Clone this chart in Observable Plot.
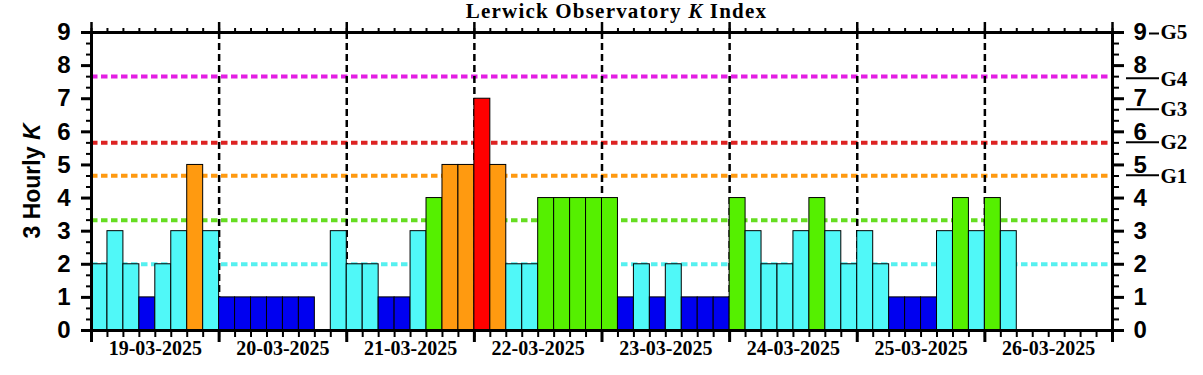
<!DOCTYPE html>
<html>
<head>
<meta charset="utf-8">
<script src="https://cdn.jsdelivr.net/npm/d3@7"></script>
<script src="https://cdn.jsdelivr.net/npm/@observablehq/plot@0.6"></script>
<style>
  html, body { margin: 0; padding: 0; background: #fff; }
  #title {
    height: 20px; line-height: 22px; box-sizing: border-box; padding-left: 30px;
    font-family: "Liberation Serif", serif; font-weight: bold; font-size: 21px;
    letter-spacing: 1.2px; text-align: center; color: #000; white-space: nowrap;
  }
  #chart svg { display: block; overflow: visible; }
</style>
</head>
<body>
<div id="title">Lerwick Observatory <i>K</i> Index</div>
<div id="chart"></div>
<script>
// ---- data ----
const days = ["19-03-2025", "20-03-2025", "21-03-2025", "22-03-2025", "23-03-2025", "24-03-2025", "25-03-2025", "26-03-2025"];
const kDay19 = [2, 3, 2, 1, 2, 3, 5, 3];
const kDay20 = [1, 1, 1, 1, 1, 1, 0, 3];
const kDay21 = [2, 2, 1, 1, 3, 4, 5, 5];
const kDay22 = [7, 5, 2, 2, 4, 4, 4, 4];
const kDay23 = [4, 1, 2, 1, 2, 1, 1, 1];
const kDay24 = [4, 3, 2, 2, 3, 4, 3, 2];
const kDay25 = [3, 2, 1, 1, 1, 3, 4, 3];
const kDay26 = [4, 3, null, null, null, null, null, null];
const yTicks = [0, 1, 2, 3, 4, 5, 6, 7, 8, 9];
const thresholdK = [2, 3.33, 4.67, 5.67, 7.67];
const thresholdColors = ["#55f0f0", "#66dd22", "#ff9a11", "#dd2222", "#e31fe3"];
const kColors = ["#0000f0", "#0000f0", "#50f8f8", "#50f8f8", "#55f000", "#ff9a10", "#ff6600", "#ff0000", "#ff00ff", "#ff00ff"];
const gLabels = ["G1", "G2", "G3", "G4", "G5"];
const gK = [4.67, 5.67, 6.67, 7.6, 9];
const yTitle = ["3 Hourly ", "K"];

// ---- derived ----
const H = 3600 * 1000;
const start = Date.UTC(2025, 2, 19);
const kAll = [kDay19, kDay20, kDay21, kDay22, kDay23, kDay24, kDay25, kDay26];
const bars = [];
kAll.forEach((arr, i) => arr.forEach((k, j) => {
  if (k == null || k === 0) return;
  const s = start + (i * 8 + j) * 3 * H;
  bars.push({x1: new Date(s), x2: new Date(s + 3 * H), k, color: kColors[k]});
}));
const dayStarts = d3.range(days.length + 1).map(i => new Date(start + i * 24 * H));
const dayInner = dayStarts.slice(1, -1);
const minor = d3.range(days.length * 8 + 1).map(i => new Date(start + i * 3 * H));
const noons = days.map((d, i) => new Date(start + (i * 24 + 12) * H));
const yMinor = d3.range(0, 28).map(i => i / 3).filter(v => Math.abs(v - Math.round(v)) > 1e-6);
const thresholds = thresholdK.map((k, i) => ({k, color: thresholdColors[i]}));

const numFont = {fontFamily: "Liberation Sans, Arial, sans-serif", fontSize: 24, fontWeight: "bold"};

const chart = Plot.plot({
  width: 1203,
  height: 355,
  marginTop: 12,
  marginBottom: 45,
  marginLeft: 91,
  marginRight: 91,
  x: {type: "utc", domain: [dayStarts[0], dayStarts[dayStarts.length - 1]], axis: null},
  y: {domain: [0, 9], axis: null},
  color: {type: "identity"},
  style: {background: "#fff", color: "#000"},
  marks: [
    Plot.ruleY(thresholds, {y: "k", stroke: "color", strokeWidth: 4, strokeDasharray: "6.5,3.5"}),
    Plot.ruleX(dayInner, {stroke: "#000", strokeWidth: 2.5, strokeDasharray: "7,4"}),
    Plot.rect(bars, {x1: "x1", x2: "x2", y1: 0, y2: "k", fill: "color", stroke: "#000", strokeWidth: 1}),
    Plot.frame({stroke: "#000", strokeWidth: 3}),
    // bottom ticks
    Plot.axisX({anchor: "bottom", ticks: minor, tickSize: 7, strokeWidth: 2, tickFormat: () => "", label: null}),
    Plot.axisX({anchor: "bottom", ticks: dayStarts, tickSize: 12, strokeWidth: 3, tickFormat: () => "", label: null}),
    // top ticks
    Plot.axisX({anchor: "top", ticks: minor, tickSize: 5, strokeWidth: 2, tickFormat: () => "", label: null}),
    Plot.axisX({anchor: "top", ticks: dayStarts, tickSize: 11, strokeWidth: 2.5, tickFormat: () => "", label: null}),
    // day labels
    Plot.text(days, {x: (d, i) => noons[i], text: d => d, frameAnchor: "bottom", dy: 24,
      fontFamily: "Liberation Serif, serif", fontWeight: "bold", fontSize: 20, fill: "#000"}),
    // left y axis
    Plot.axisY({anchor: "left", ticks: yMinor, tickSize: 5, strokeWidth: 2, tickFormat: () => "", label: null}),
    Plot.axisY({anchor: "left", ticks: yTicks, tickSize: 10, tickPadding: 11, strokeWidth: 3, tickFormat: d => String(d), label: null, ...numFont}),
    // right y axis
    Plot.axisY({anchor: "right", ticks: yMinor, tickSize: 6, strokeWidth: 2, tickFormat: () => "", label: null}),
    Plot.axisY({anchor: "right", ticks: yTicks, tickSize: 11, tickPadding: 10, strokeWidth: 3, tickFormat: d => String(d), label: null, ...numFont}),
    // G labels
    Plot.text(gLabels, {y: (d, i) => gK[i], text: d => d, frameAnchor: "right", dx: 48, textAnchor: "start",
      fontFamily: "Liberation Serif, serif", fontWeight: "bold", fontSize: 21, fill: "#000"})
  ]
});
document.getElementById("chart").appendChild(chart);

// extra: y title with italic K, G connector lines
const svg = d3.select(chart);
const ys = chart.scale("y");
const xr = 1203 - 91;
const yt = svg.append("text")
  .attr("transform", `translate(40,${(12 + 310) / 2}) rotate(-90)`)
  .attr("text-anchor", "middle")
  .attr("font-family", "Liberation Sans, Arial, sans-serif")
  .attr("font-weight", "bold").attr("font-size", 23).attr("fill", "#000");
yt.append("tspan").text(yTitle[0]);
yt.append("tspan").attr("font-style", "italic").text(yTitle[1]);

gK.forEach((k, i) => {
  const y = ys.apply(k);
  const last = i === gK.length - 1;
  svg.append("line")
    .attr("x1", last ? xr + 37 : xr + 14).attr("x2", xr + 47)
    .attr("y1", y + (last ? 1.5 : 0)).attr("y2", y + (last ? 1.5 : 0))
    .attr("stroke", "#000").attr("stroke-width", 2);
});
</script>
</body>
</html>
